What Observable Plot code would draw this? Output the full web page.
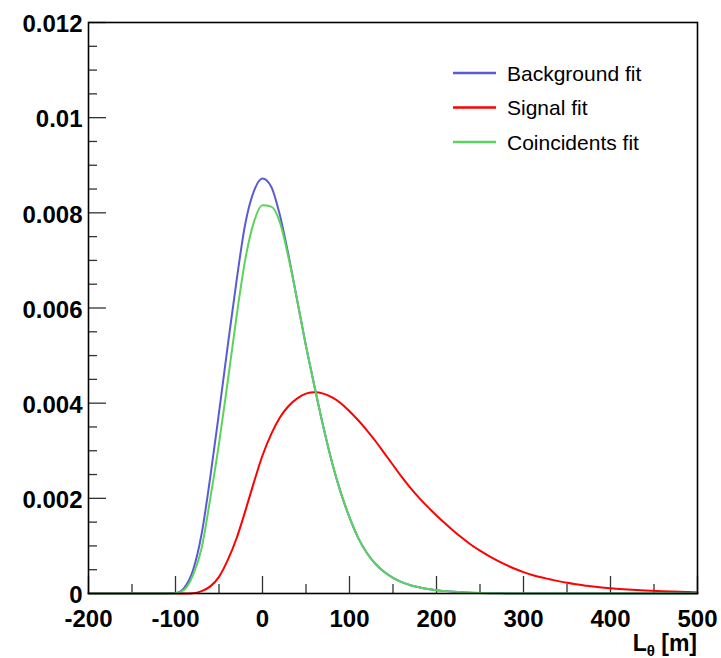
<!DOCTYPE html>
<html><head><meta charset="utf-8">
<script src="https://cdn.jsdelivr.net/npm/d3@7"></script>
<script src="https://cdn.jsdelivr.net/npm/@observablehq/plot@0.6"></script>
<style>body{margin:0;background:#fff} #chart{position:relative;width:721px;height:658px}</style>
</head><body><div id="chart"></div>
<script>
const xValues = [-200,-190,-180,-170,-160,-150,-140,-130,-120,-110,
  -100,-90,-80,-70,-60,-50,-40,-30,-20,-10,
  0,10,20,30,40,50,60,70,80,90,
  100,110,120,130,140,150,160,170,180,190,
  200,210,220,230,240,250,260,270,280,290,
  300,310,320,330,340,350,360,370,380,390,
  400,410,420,430,440,450,460,470,480,490,500];
const background = [0,0,0,0,0,0,0,0,0,0,
  0.00001,0.00012,0.00048,0.00125,0.00245,0.0038,0.0052,0.00655,0.00775,0.00845,
  0.00872,0.00855,0.00795,0.0071,0.00615,0.0052,0.00433,0.0035,0.00275,0.00212,
  0.0016,0.00117,0.00085,0.00062,0.00045,0.00033,0.00024,0.000175,0.00013,0.000095,
  0.00007,0.00005,0.000035,0.000024,0.000016,0.00001,0.000006,0.000004,0.000002,0.000001,
  0,0,0,0,0,0,0,0,0,0,
  0,0,0,0,0,0,0,0,0,0,0];
const signal = [0,0,0,0,0,0,0,0,0,0,
  0,0,0.000005,0.00005,0.00015,0.00035,0.0007,0.00115,0.00172,0.00233,
  0.0029,0.00335,0.0037,0.00394,0.0041,0.0042,0.00423,0.0042,0.00412,0.004,
  0.00383,0.00364,0.00343,0.0032,0.00295,0.0027,0.00245,0.00222,0.00201,0.00182,
  0.00164,0.00147,0.00131,0.00116,0.00102,0.0009,0.00079,0.00069,0.0006,0.00052,
  0.00045,0.00039,0.00034,0.0003,0.00026,0.000224,0.000195,0.00017,0.000145,0.000125,
  0.00011,0.000095,0.000083,0.000073,0.000064,0.000056,0.000048,0.000041,0.000035,0.00003,0.000025];
const coincidents = [0,0,0,0,0,0,0,0,0,0,
  0.000005,0.00008,0.00038,0.00095,0.002,0.00315,0.00445,0.0058,0.007,0.0078,
  0.00816,0.00813,0.0078,0.00705,0.00615,0.0052,0.00433,0.0035,0.00275,0.00212,
  0.0016,0.00117,0.00085,0.00062,0.00045,0.00033,0.00024,0.000175,0.00013,0.000095,
  0.00007,0.00005,0.000035,0.000024,0.000016,0.00001,0.000006,0.000004,0.000002,0.000001,
  0,0,0,0,0,0,0,0,0,0,
  0,0,0,0,0,0,0,0,0,0,0];
const seriesNames = ["Background fit", "Signal fit", "Coincidents fit"];
const seriesColors = ["#5a5ad8", "#ff0000", "#5cd35c"];
const xMajorTicks = [-200,-100,0,100,200,300,400,500];
const xMinorTicks = [-150,-50,50,150,250,350,450];
const yMajorTicks = [0,0.002,0.004,0.006,0.008,0.01,0.012];
const yMinorTicks = [0.0005,0.001,0.0015,0.0025,0.003,0.0035,0.0045,0.005,0.0055,0.0065,0.007,0.0075,0.0085,0.009,0.0095,0.0105,0.011,0.0115];
const xLabel = "L", xLabelSub = "θ", xLabelUnit = " [m]";

const toRows = (arr, name) => arr.map((v, j) => ({series: name, x: xValues[j], y: v}));
const bgRows = toRows(background, seriesNames[0]);
const sgRows = toRows(signal, seriesNames[1]);
const coRows = toRows(coincidents, seriesNames[2]);

const labelFont = {fontSize: 24, fontWeight: "bold", fill: "black"};

const plot = Plot.plot({
  width: 721, height: 658,
  marginLeft: 88, marginRight: 24, marginTop: 22, marginBottom: 65,
  style: {fontFamily: "'Liberation Sans', Arial, sans-serif", background: "#fff", overflow: "visible"},
  x: {domain: [-200, 500], label: null},
  y: {domain: [0, 0.012], label: null},
  color: {domain: seriesNames, range: seriesColors},
  marks: [
    Plot.axisX(xMinorTicks, {tickSize: -9, tickFormat: () => "", stroke: "#333", strokeWidth: 1.3, label: null}),
    Plot.axisX(xMajorTicks, {tickSize: -17, tickFormat: () => "", stroke: "#333", strokeWidth: 1.3, label: null}),
    Plot.axisX(xMajorTicks, {tickSize: 0, tickPadding: 16, tickFormat: d => String(d), ...labelFont, label: null}),
    Plot.axisY(yMinorTicks, {tickSize: -9, tickFormat: () => "", stroke: "#333", strokeWidth: 1.3, label: null}),
    Plot.axisY(yMajorTicks, {tickSize: -18, tickFormat: () => "", stroke: "#333", strokeWidth: 1.3, label: null}),
    Plot.axisY(yMajorTicks, {tickSize: 0, tickPadding: 6, dy: 2, tickFormat: d => d === 0 ? "0" : String(d), ...labelFont, label: null}),
    Plot.line(sgRows, {x: "x", y: "y", stroke: "series", strokeWidth: 2, curve: "monotone-x"}),
    Plot.line(bgRows, {x: "x", y: "y", stroke: "series", strokeWidth: 2, curve: "monotone-x"}),
    Plot.line(coRows, {x: "x", y: "y", stroke: "series", strokeWidth: 2, curve: "monotone-x"}),
    Plot.frame({stroke: "black", strokeWidth: 1.6})
  ]
});

const svg = d3.select(plot);
const t = svg.append("text")
  .attr("x", 697).attr("y", 651)
  .attr("text-anchor", "end")
  .style("font-size", "23px").style("font-weight", "bold").attr("fill", "black");
t.append("tspan").text(xLabel);
t.append("tspan").attr("dy", 5).style("font-size", "15px").text(xLabelSub);
t.append("tspan").attr("dy", -5).text(xLabelUnit);

const legendRowsY = [73, 107.5, 142];
const lg = svg.append("g").attr("class", "legend").attr("text-anchor", "start");
seriesNames.forEach((name, i) => {
  lg.append("line").attr("x1", 453).attr("x2", 496)
    .attr("y1", legendRowsY[i]).attr("y2", legendRowsY[i])
    .attr("stroke", seriesColors[i]).attr("stroke-width", 2.5);
  lg.append("text").attr("x", 507).attr("y", legendRowsY[i])
    .attr("dominant-baseline", "central").attr("text-anchor", "start")
    .style("font-size", "21px").attr("fill", "black").text(name);
});

document.getElementById("chart").appendChild(plot);
</script>
</body></html>
